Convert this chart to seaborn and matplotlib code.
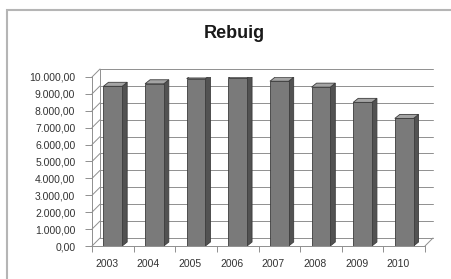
import matplotlib
matplotlib.use("Agg")
import matplotlib.pyplot as plt
import matplotlib.transforms as mtransforms
from matplotlib.patches import Polygon, Rectangle
from matplotlib.ticker import FuncFormatter
import numpy as np
import pandas as pd
import seaborn as sns

# data
years = ["2003", "2004", "2005", "2006", "2007", "2008", "2009", "2010"]
rebuig = [9450, 9600, 9900, 9950, 9750, 9400, 8500, 7550]
y_ticks = list(range(0, 10001, 1000))

df = pd.DataFrame({"year": years, "rebuig": rebuig})

sns.set_style("white")
plt.rcParams["font.family"] = ["Liberation Sans", "DejaVu Sans"]

W, H, DPI = 451, 279, 100
fig = plt.figure(figsize=(W / DPI, H / DPI), dpi=DPI)

# axes placed in pixel terms
ax_l, ax_r, ax_b, ax_t = 92, 425, 246, 77
ax = fig.add_axes([ax_l / W, 1 - ax_b / H, (ax_r - ax_l) / W, (ax_b - ax_t) / H])

sns.barplot(data=df, x="year", y="rebuig", ax=ax, color="#7a7a7a",
            width=0.45, edgecolor="#3c3c3c", linewidth=0.6, saturation=1, zorder=3)

ax.set_xlim(-0.5, len(years) - 0.5)
ax.set_ylim(0, 10000)

# pixel -> data conversions for the fake 3d depth
px_x = (ax_r - ax_l) / len(years)
px_y = (ax_b - ax_t) / 10000
wall_dx, wall_dy = 8 / px_x, 8 / px_y
bar_dx, bar_dy = 5 / px_x, 4 / px_y

# back wall gridlines + connectors
x0, x1 = -0.5, len(years) - 0.5
grid_c = "#8f8f8f"
for t in y_ticks:
    ax.plot([x0 + wall_dx, x1 + wall_dx], [t + wall_dy, t + wall_dy],
            color=grid_c, lw=0.7, zorder=1, clip_on=False)
    ax.plot([x0, x0 + wall_dx], [t, t + wall_dy],
            color=grid_c, lw=0.7, zorder=1, clip_on=False)
ax.plot([x0 + wall_dx, x0 + wall_dx], [wall_dy, 10000 + wall_dy],
        color=grid_c, lw=0.7, zorder=1, clip_on=False)
ax.plot([x1, x1 + wall_dx], [0, wall_dy], color=grid_c, lw=0.7,
        zorder=1, clip_on=False)

# side and top faces of each bar
for p in ax.patches:
    bx, bw, bh = p.get_x(), p.get_width(), p.get_height()
    side = Polygon([(bx + bw, 0), (bx + bw + bar_dx, bar_dy),
                    (bx + bw + bar_dx, bh + bar_dy), (bx + bw, bh)],
                   closed=True, facecolor="#525252", edgecolor="#3c3c3c",
                   linewidth=0.6, zorder=2.9)
    top = Polygon([(bx, bh), (bx + bar_dx, bh + bar_dy),
                   (bx + bw + bar_dx, bh + bar_dy), (bx + bw, bh)],
                  closed=True, facecolor="#a4a4a4", edgecolor="#3c3c3c",
                  linewidth=0.6, zorder=2.9)
    ax.add_patch(side)
    ax.add_patch(top)

# axis styling
ax.set_yticks(y_ticks)
ax.yaxis.set_major_formatter(FuncFormatter(
    lambda v, _: f"{v:,.2f}".replace(",", "X").replace(".", ",").replace("X", ".")))
ax.set_xlabel("")
ax.set_ylabel("")
for s in ["top", "right"]:
    ax.spines[s].set_visible(False)
for s in ["left", "bottom"]:
    ax.spines[s].set_color(grid_c)
    ax.spines[s].set_linewidth(0.7)
ax.tick_params(axis="y", left=True, length=5, width=0.7, color=grid_c,
               labelsize=7.5, labelcolor="#333333", pad=7)
ax.tick_params(axis="x", bottom=False, labelsize=7.5, labelcolor="#333333", pad=6)
ax.set_xticks(np.arange(-0.5, len(years), 1.0), minor=True)
ax.tick_params(axis="x", which="minor", bottom=True, length=4, width=0.7,
               color=grid_c)
shift = mtransforms.ScaledTranslation(-6 / DPI, 0, fig.dpi_scale_trans)
for lab in ax.get_xticklabels():
    lab.set_transform(lab.get_transform() + shift)

fig.text(234 / W, 1 - 34 / H, "Rebuig", ha="center", va="center",
         fontsize=13, fontweight="bold", color="#1a1a1a")

# chart area border (left and top edges visible)
fig.add_artist(Rectangle((7 / W, -0.1), 1.2, 1 - 10 / H + 0.1,
                         transform=fig.transFigure, fill=False,
                         edgecolor="#b5b5b5", linewidth=1.5))

fig.savefig("out.png", dpi=DPI)
